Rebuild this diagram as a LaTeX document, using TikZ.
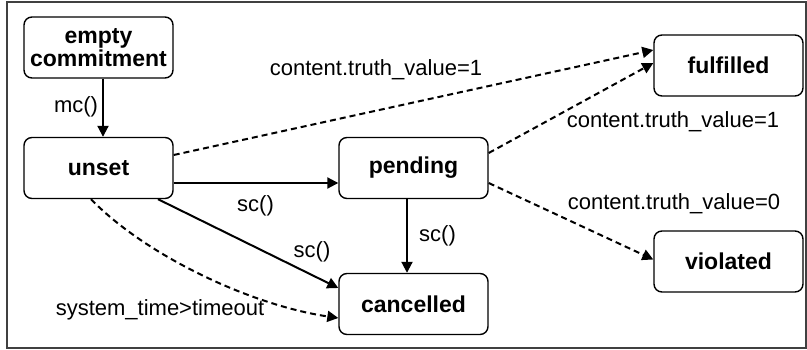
\documentclass[tikz,border=0pt]{standalone}
\usepackage{fontspec}
\setmainfont{Liberation Sans}
\usetikzlibrary{arrows.meta}
\begin{document}
\begin{tikzpicture}[x=1pt,y=-1pt,
  state/.style={draw,line width=1.4pt,rounded corners=8pt,minimum width=149pt,minimum height=61pt,inner sep=0pt,align=center,font=\fontsize{23}{23}\selectfont\bfseries},
  lbl/.style={anchor=base,inner sep=0pt,font=\fontsize{22}{24}\selectfont},
  solidarr/.style={line width=2pt,-{Triangle[length=11pt,width=11pt]}},
  dasharr/.style={line width=2pt,dash pattern=on 6pt off 4pt,-{Triangle[length=11pt,width=11pt]}}]
\useasboundingbox (0,0) rectangle (807,350);
\draw[line width=2pt,black!75] (7,2) rectangle (806,348);
\node[state] (empty) at (98.5,47.5) {empty\\commitment};
\node[state] (unset) at (98.5,168) {unset};
\node[state] (pending) at (413.5,168) {pending};
\node[state] (fulfilled) at (728.5,65.5) {fulfilled};
\node[state] (violated) at (728.5,261.5) {violated};
\node[state] (cancelled) at (413.5,304) {cancelled};
\draw[solidarr] ([xshift=4.5pt]empty.south) -- ([xshift=4.5pt]unset.north);
\draw[dasharr] ([yshift=13pt]unset.east) -- ([yshift=15.5pt]fulfilled.west);
\draw[dasharr] ([yshift=15pt]pending.east) -- ([yshift=2.5pt]fulfilled.west);
\draw[solidarr] ([yshift=-15pt]unset.east) -- ([yshift=-15pt]pending.west);
\draw[solidarr] ([xshift=59.5pt]unset.south) -- ([yshift=16pt]cancelled.west);
\draw[dasharr] ([xshift=-7.5pt]unset.south) .. controls (145,255) and (250,305) .. ([yshift=-14pt]cancelled.west);
\draw[solidarr] ([xshift=-6.5pt]pending.south) -- ([xshift=-6.5pt]cancelled.north);
\draw[dasharr] ([yshift=-15pt]pending.east) -- ([yshift=2pt]violated.west);
\node[lbl] (l1) at (76,113) {mc()};
\node[lbl] (l2) at (376,76) {content.truth\_value=1};
\node[lbl] (l3) at (673,128) {content.truth\_value=1};
\node[lbl] (l4) at (255.5,212) {sc()};
\node[lbl] (l5) at (312,258) {sc()};
\node[lbl] (l6) at (160,316) {system\_time>timeout};
\node[lbl] (l7) at (437.5,242) {sc()};
\node[lbl] (l8) at (674,210) {content.truth\_value=0};
\end{tikzpicture}
\end{document}
